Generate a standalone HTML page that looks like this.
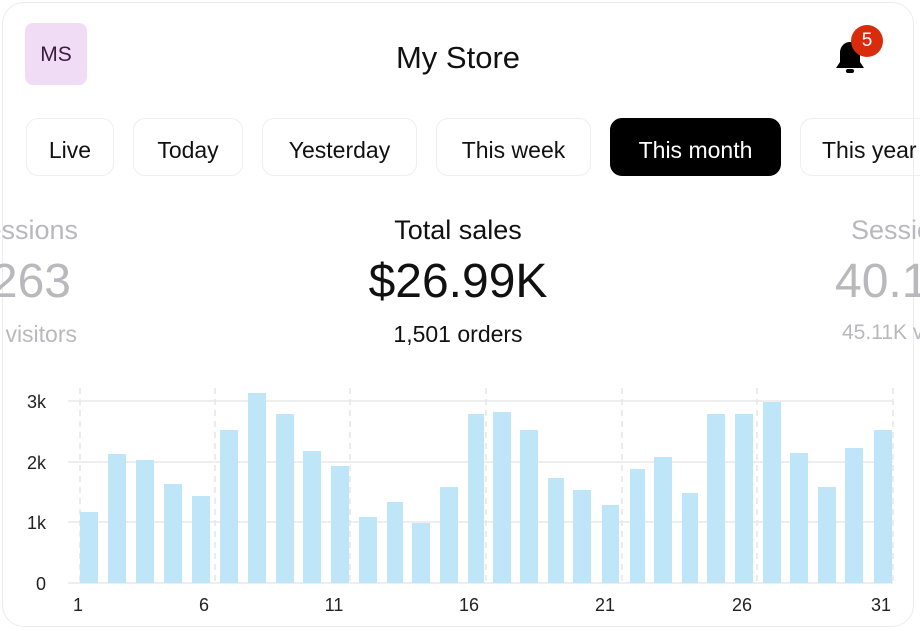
<!DOCTYPE html>
<html><head><meta charset="utf-8"><style>
html,body{margin:0;padding:0}
body{width:920px;height:631px;background:#fff;overflow:hidden;font-family:"Liberation Sans",sans-serif}
#w{position:relative;width:920px;height:631px;overflow:hidden}
.card{position:absolute;left:2px;top:2px;width:912px;height:625px;border:1.5px solid #ececec;border-radius:22px;background:#fff;box-sizing:border-box}
.a{position:absolute;white-space:nowrap}
.btn{position:absolute;top:118px;height:58px;border:1.5px solid #efefef;border-radius:12px;box-sizing:border-box;font-size:23px;line-height:62px;text-align:center;color:#111}
.g{color:#b9b9bd}
</style></head><body><div id="w">
<div class="card"></div>
<div class="a" style="left:25px;top:23px;width:62px;height:62px;background:#f1dcf5;border-radius:8px;color:#3d1b3f;font-size:21px;line-height:64px;text-align:center">MS</div>
<div class="a" style="left:0;width:916px;top:40px;text-align:center;font-size:31px;color:#111">My Store</div>
<svg class="a" style="left:830px;top:36px" width="40" height="42" viewBox="0 0 40 42"><path d="M20 6c-6 0-10 5-10 11v9l-4 6h28l-4-6v-9c0-6-4-11-10-11z" fill="#000"/><rect x="16" y="33" width="8" height="4" rx="2" fill="#000"/></svg>
<div class="a" style="left:851px;top:25px;width:32px;height:32px;border-radius:50%;background:#d82c0d;color:#fff;font-size:19px;line-height:32px;text-align:center">5</div>
<div class="btn" style="left:26px;width:88px">Live</div>
<div class="btn" style="left:133px;width:110px">Today</div>
<div class="btn" style="left:262px;width:155px">Yesterday</div>
<div class="btn" style="left:436px;width:155px">This week</div>
<div class="btn" style="left:610px;width:171px;background:#000;color:#fff;border-color:#000">This month</div>
<div class="btn" style="left:800px;width:160px;text-align:left;padding-left:21px">This year</div>
<div class="a" style="left:0;width:916px;text-align:center;top:215px;font-size:27px;color:#111">Total sales</div>
<div class="a" style="left:0;width:916px;text-align:center;top:254px;font-size:48px;color:#111">$26.99K</div>
<div class="a" style="left:0;width:916px;text-align:center;top:321px;font-size:23px;color:#111">1,501 orders</div>
<div class="a g" style="right:842px;top:215px;font-size:27px">Sessions</div>
<div class="a g" style="right:849px;top:254px;font-size:48px">263</div>
<div class="a g" style="right:843px;top:321px;font-size:23px">visitors</div>
<div class="a g" style="left:851px;top:215px;font-size:27px">Sessions</div>
<div class="a g" style="left:835px;top:254px;font-size:48px">40.1K</div>
<div class="a g" style="left:842px;top:321px;font-size:21px">45.11K visitors</div>
<svg class="a" style="left:0;top:0" width="920" height="631">
<g stroke="#eeeeee" stroke-width="2">
<line x1="68" y1="401" x2="893" y2="401"/><line x1="68" y1="462" x2="893" y2="462"/><line x1="68" y1="522" x2="893" y2="522"/><line x1="68" y1="583" x2="893" y2="583"/></g>
<g stroke="#e6e6e6" stroke-width="1.5" stroke-dasharray="6,5">
<line x1="80" y1="388" x2="80" y2="583"/><line x1="215" y1="388" x2="215" y2="583"/><line x1="350" y1="388" x2="350" y2="583"/><line x1="486" y1="388" x2="486" y2="583"/><line x1="622" y1="388" x2="622" y2="583"/><line x1="757" y1="388" x2="757" y2="583"/><line x1="893" y1="388" x2="893" y2="583"/></g>
<g fill="#bee5f8">
<rect x="80" y="512" width="18" height="71"/><rect x="108" y="454" width="18" height="129"/><rect x="136" y="460" width="18" height="123"/><rect x="164" y="484" width="18" height="99"/><rect x="192" y="496" width="18" height="87"/><rect x="220" y="430" width="18" height="153"/><rect x="248" y="393" width="18" height="190"/><rect x="276" y="414" width="18" height="169"/><rect x="303" y="451" width="18" height="132"/><rect x="331" y="466" width="18" height="117"/><rect x="359" y="517" width="18" height="66"/><rect x="387" y="502" width="16" height="81"/><rect x="412" y="523" width="18" height="60"/><rect x="440" y="487" width="18" height="96"/>
<rect x="468" y="414" width="16" height="169"/><rect x="493" y="412" width="18" height="171"/><rect x="520" y="430" width="18" height="153"/><rect x="548" y="478" width="16" height="105"/><rect x="573" y="490" width="18" height="93"/><rect x="602" y="505" width="17" height="78"/><rect x="630" y="469" width="15" height="114"/><rect x="654" y="457" width="18" height="126"/><rect x="682" y="493" width="16" height="90"/><rect x="707" y="414" width="18" height="169"/><rect x="735" y="414" width="18" height="169"/><rect x="763" y="402" width="18" height="181"/><rect x="790" y="453" width="18" height="130"/><rect x="818" y="487" width="18" height="96"/><rect x="845" y="448" width="18" height="135"/><rect x="874" y="430" width="18" height="153"/></g>
<g font-family="Liberation Sans" font-size="18" fill="#222" text-anchor="end">
<text x="46" y="408">3k</text><text x="46" y="469">2k</text><text x="46" y="529">1k</text><text x="46" y="590">0</text></g>
<g font-family="Liberation Sans" font-size="18" fill="#222" text-anchor="middle">
<text x="78" y="611">1</text><text x="204" y="611">6</text><text x="334" y="611">11</text><text x="469" y="611">16</text><text x="605" y="611">21</text><text x="742" y="611">26</text><text x="881" y="611">31</text></g>
</svg>
</div></body></html>
